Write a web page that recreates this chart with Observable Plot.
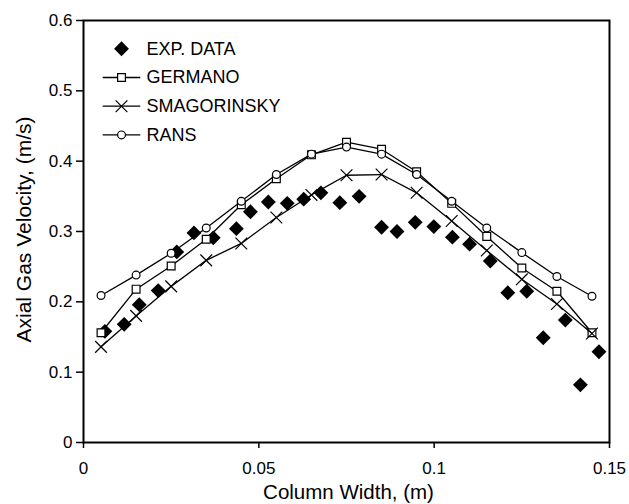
<!DOCTYPE html>
<html>
<head>
<meta charset="utf-8">
<script src="https://cdn.jsdelivr.net/npm/d3@7"></script>
<script src="https://cdn.jsdelivr.net/npm/@observablehq/plot@0.6"></script>
<style>
  html, body { margin: 0; padding: 0; background: #fff; }
  #chart { width: 629px; height: 504px; }
</style>
</head>
<body>
<div id="chart"></div>
<script>
// ---- data ----
const expX = [0.0061,0.0116,0.0159,0.0213,0.0266,0.0315,0.0370,0.0436,0.0476,0.0527,0.0581,0.0628,0.0677,0.0731,0.0786,0.0850,0.0894,0.0946,0.0999,0.1052,0.1101,0.1160,0.1210,0.1264,0.1311,0.1374,0.1417,0.1470];
const expY = [0.158,0.168,0.196,0.216,0.271,0.298,0.291,0.304,0.328,0.342,0.340,0.346,0.355,0.341,0.350,0.306,0.300,0.313,0.307,0.292,0.282,0.258,0.213,0.215,0.149,0.174,0.082,0.129];

const modelX = [0.005,0.015,0.025,0.035,0.045,0.055,0.065,0.075,0.085,0.095,0.105,0.115,0.125,0.135,0.145];
const germano = [0.156,0.218,0.251,0.289,0.338,0.375,0.409,0.427,0.417,0.385,0.340,0.293,0.248,0.215,0.156];
const smagorinsky = [0.136,0.180,0.222,0.259,0.283,0.320,0.352,0.380,0.381,0.355,0.315,0.273,0.232,0.197,0.155];
const rans = [0.209,0.238,0.269,0.305,0.343,0.381,0.410,0.420,0.410,0.381,0.343,0.305,0.270,0.236,0.208];

const seriesNames = ["EXP. DATA","GERMANO","SMAGORINSKY","RANS"];

const xTicks = [0,0.05,0.1,0.15];
const xTickLabels = ["0","0.05","0.1","0.15"];
const yTicks = [0,0.1,0.2,0.3,0.4,0.5,0.6];
const yTickLabels = ["0","0.1","0.2","0.3","0.4","0.5","0.6"];

const xLabel = "Column Width, (m)";
const yLabel = "Axial Gas Velocity, (m/s)";

// ---- build ----
const idx = modelX.map((_, i) => i);
const eidx = expX.map((_, i) => i);

const markerStyle = {
  "EXP. DATA": {symbol: "diamond2", r: 6.7, fill: "black", stroke: "none"},
  "GERMANO": {symbol: "square", r: 4.4, fill: "white", stroke: "black"},
  "SMAGORINSKY": {symbol: "times", r: 5.4, fill: "none", stroke: "black"},
  "RANS": {symbol: "circle", r: 3.9, fill: "white", stroke: "black"}
};
const modelSeries = [["GERMANO", germano], ["SMAGORINSKY", smagorinsky], ["RANS", rans]];

const legendLine = { draw(ctx) { ctx.moveTo(-18.8, 0); ctx.lineTo(18.8, 0); } };

const marks = [];

// experimental data
marks.push(Plot.dot(eidx, {x: i => expX[i], y: i => expY[i], ...markerStyle["EXP. DATA"]}));

// model lines + markers
for (const [name, vals] of modelSeries) {
  marks.push(Plot.line(idx, {x: i => modelX[i], y: i => vals[i], stroke: "black", strokeWidth: 1.3}));
  marks.push(Plot.dot(idx, {x: i => modelX[i], y: i => vals[i], strokeWidth: 1.2, ...markerStyle[name]}));
}

// legend (inside plot, top-left)
seriesNames.forEach((name, i) => {
  const dy = 28.3 + 28.7 * i;
  if (i > 0) {
    marks.push(Plot.dot([name], {frameAnchor: "top-left", dx: 38, dy, symbol: legendLine, r: 5, stroke: "black", strokeWidth: 1.3}));
  }
  marks.push(Plot.dot([name], {frameAnchor: "top-left", dx: 38, dy, strokeWidth: 1.2, ...markerStyle[name]}));
  marks.push(Plot.text([name], {frameAnchor: "top-left", dx: 63, dy, text: d => d, textAnchor: "start", lineAnchor: "middle", fontSize: 18, fill: "black"}));
});

// axes
marks.push(Plot.axisX({ticks: xTicks, tickFormat: d => xTickLabels[xTicks.indexOf(d)], tickSize: 6, tickPadding: 13, fontSize: 17, label: null, strokeWidth: 1.5}));
marks.push(Plot.axisY({ticks: yTicks, tickFormat: d => yTickLabels[yTicks.indexOf(d)], tickSize: 7, tickPadding: 4, fontSize: 17, label: null, strokeWidth: 1.5}));
marks.push(Plot.frame({stroke: "black", strokeWidth: 2}));

// axis titles
marks.push(Plot.text([xLabel], {frameAnchor: "bottom", dx: 2, dy: 50, text: d => d, textAnchor: "middle", lineAnchor: "middle", fontSize: 20.5, fill: "black"}));
marks.push(Plot.text([yLabel], {frameAnchor: "left", dx: -59, dy: -2, rotate: -90, text: d => d, textAnchor: "middle", lineAnchor: "middle", fontSize: 21, fill: "black", ariaLabel: "ylabel"}));

const chart = Plot.plot({
  width: 629,
  height: 504,
  marginLeft: 83,
  marginRight: 20,
  marginTop: 20,
  marginBottom: 62,
  style: {fontFamily: "'Liberation Sans', Arial, sans-serif", background: "white", color: "black"},
  x: {domain: [0, 0.15]},
  y: {domain: [0, 0.6]},
  marks
});
d3.select(chart).selectAll("g[aria-label='ylabel'] text").style("letter-spacing", "1.1px");
document.getElementById("chart").appendChild(chart);
</script>
</body>
</html>
